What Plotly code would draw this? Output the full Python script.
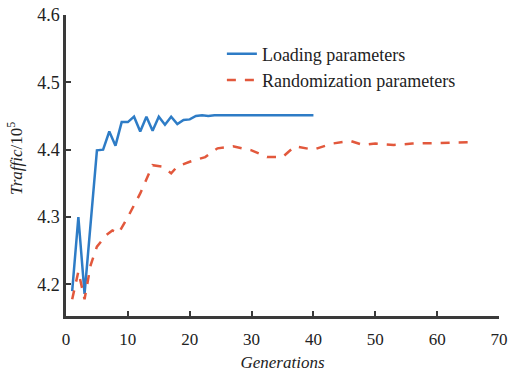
import plotly.graph_objects as go

load_x = list(range(1, 41))
load_y = [4.190, 4.300, 4.186, 4.292, 4.399, 4.400, 4.427, 4.406, 4.441, 4.441,
          4.449, 4.427, 4.449, 4.428, 4.449, 4.437, 4.449, 4.438, 4.444, 4.445,
          4.450, 4.451, 4.450, 4.451, 4.451, 4.450, 4.450, 4.451, 4.450, 4.451,
          4.451, 4.450, 4.451, 4.451, 4.450, 4.451, 4.451, 4.450, 4.451, 4.451]

rand_x = [1, 2, 3, 4, 5, 6.5, 7.5, 8.5, 10, 12, 14, 15.5, 17, 18, 20, 22.5, 24.5,
          27, 30, 32.5, 35, 37, 40, 43, 46, 48, 50, 53, 56, 59, 62, 65]
rand_y = [4.178, 4.219, 4.178, 4.229, 4.256, 4.273, 4.280, 4.276, 4.300, 4.335,
          4.377, 4.375, 4.365, 4.375, 4.382, 4.389, 4.402, 4.405, 4.399, 4.389,
          4.389, 4.405, 4.400, 4.409, 4.413, 4.407, 4.409, 4.407, 4.409, 4.410,
          4.411, 4.411]

x_ticks = [0, 10, 20, 30, 40, 50, 60, 70]
y_ticks = [4.2, 4.3, 4.4, 4.5, 4.6]

FONT = "Liberation Serif"
AXIS_COLOR = "#3a3a3a"
TXT = "#222"

fig = go.Figure()
fig.add_trace(go.Scatter(x=load_x, y=load_y, mode="lines", name="Loading parameters",
                         line=dict(color="#2e7cc6", width=2.5)))
fig.add_trace(go.Scatter(x=rand_x, y=rand_y, mode="lines", name="Randomization parameters",
                         line=dict(color="#e2583c", width=2.5, dash="dash")))

fig.update_layout(
    width=508, height=372,
    margin=dict(l=66, r=9, t=15, b=56, autoexpand=False),
    paper_bgcolor="white", plot_bgcolor="white",
    font=dict(family=FONT, size=15, color=TXT),
    showlegend=True,
    legend=dict(x=0.36, y=0.932, xanchor="left", yanchor="top",
                bgcolor="rgba(0,0,0,0)", font=dict(family=FONT, size=18, color=TXT)),
    xaxis=dict(range=[0, 70], tickvals=x_ticks, showgrid=False, zeroline=False,
               automargin=False, ticklabeloverflow="allow", ticklabelstandoff=6,
               showline=True, linecolor=AXIS_COLOR, linewidth=2.5,
               ticks="inside", ticklen=5, tickwidth=2, tickcolor=AXIS_COLOR,
               tickfont=dict(family=FONT, size=17, color=TXT),
               title=dict(text="<i>Generations</i>", font=dict(family=FONT, size=17), standoff=8)),
    yaxis=dict(range=[4.153, 4.6], tickvals=y_ticks, tickformat=".1f", showgrid=False, zeroline=False,
               automargin=False, ticklabeloverflow="allow",
               showline=True, linecolor=AXIS_COLOR, linewidth=2.5,
               ticks="inside", ticklen=5, tickwidth=2, tickcolor=AXIS_COLOR,
               tickfont=dict(family=FONT, size=18, color=TXT)),
    annotations=[dict(text="<i>Traffic</i>/10<sup>5</sup>", textangle=-90,
                      xref="paper", yref="paper", x=-0.118, y=0.525,
                      xanchor="center", yanchor="middle", showarrow=False,
                      font=dict(family=FONT, size=17, color=TXT))],
)

fig.write_html("out.html", config={"displayModeBar": False},
               post_script="document.body.style.margin='0';document.body.style.overflow='hidden';")
